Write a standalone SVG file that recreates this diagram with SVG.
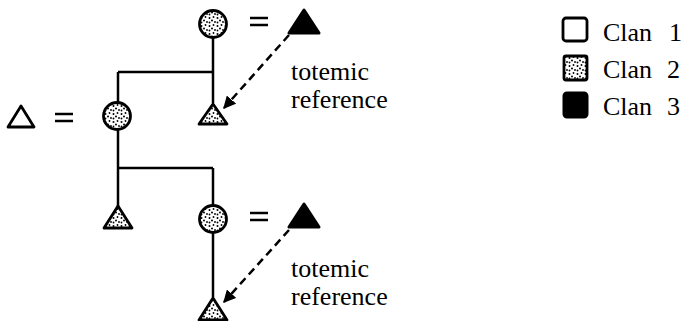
<svg xmlns="http://www.w3.org/2000/svg" width="687" height="321" viewBox="0 0 687 321">
<style>
.ln{stroke:#000;stroke-width:2.5;fill:none}
.dash{stroke:#000;stroke-width:2.5;fill:none;stroke-dasharray:8,5}
.stip{fill:url(#dots);stroke:#000;stroke-width:2.8;stroke-linejoin:round}
.open{fill:#fff;stroke:#000;stroke-width:2.8;stroke-linejoin:round}
.blk{fill:#000;stroke:#000;stroke-width:3;stroke-linejoin:round}
.eq{stroke:#000;stroke-width:2.5}
text{font-family:"Liberation Serif","Times New Roman",serif;font-size:26px;fill:#000}
</style>
<defs>
<pattern id="dots" width="8" height="8" patternUnits="userSpaceOnUse">
<rect width="8" height="8" fill="#fff"/>
<circle cx="1.5" cy="2" r="1"/>
<circle cx="5.5" cy="1" r="0.9"/>
<circle cx="4" cy="4.5" r="1"/>
<circle cx="7" cy="6" r="0.9"/>
<circle cx="1.5" cy="6.5" r="0.9"/>
</pattern>
<marker id="ah" viewBox="0 0 10 10" refX="9" refY="5" markerWidth="5" markerHeight="5" orient="auto" markerUnits="strokeWidth">
<path d="M0,0 L10,5 L0,10 z" fill="#000"/>
</marker>
</defs>
<g id="connectors">
<line class="ln" x1="213" y1="37" x2="213" y2="103"/>
<line class="ln" x1="118" y1="72" x2="213" y2="72"/>
<line class="ln" x1="118" y1="72" x2="118" y2="103"/>
<line class="ln" x1="118" y1="129" x2="118" y2="206"/>
<line class="ln" x1="118" y1="168" x2="213" y2="168"/>
<line class="ln" x1="213" y1="168" x2="213" y2="206"/>
<line class="ln" x1="213" y1="232" x2="213" y2="297"/>
<line class="eq" x1="250" y1="18" x2="268" y2="18"/>
<line class="eq" x1="250" y1="25" x2="268" y2="25"/>
<line class="eq" x1="250" y1="213" x2="268" y2="213"/>
<line class="eq" x1="250" y1="220" x2="268" y2="220"/>
<line class="eq" x1="55" y1="114" x2="73" y2="114"/>
<line class="eq" x1="55" y1="121" x2="73" y2="121"/>
<line class="dash" x1="289" y1="35" x2="224" y2="108" marker-end="url(#ah)"/>
<line class="dash" x1="289" y1="230" x2="224" y2="302" marker-end="url(#ah)"/>
</g>
<g id="n-top-mother"><circle class="stip" cx="213" cy="24" r="13.5"/></g>
<g id="n-top-clan3"><polygon class="blk" points="304,10 289,33 319,33"/></g>
<g id="n-top-son"><polygon class="stip" points="213,104 199,124 227,124"/></g>
<g id="n-left-father"><polygon class="open" points="21,106 8,127 34,127"/></g>
<g id="n-mid-mother"><circle class="stip" cx="117" cy="116" r="13.5"/></g>
<g id="n-low-son"><polygon class="stip" points="118,206 104,228 132,228"/></g>
<g id="n-low-daughter"><circle class="stip" cx="213" cy="219" r="13.5"/></g>
<g id="n-low-clan3"><polygon class="blk" points="304,204 289,227 319,227"/></g>
<g id="n-bottom-son"><polygon class="stip" points="213,298 199,320 227,320"/></g>
<g id="labels">
<text x="291" y="80">totemic</text>
<text x="291" y="108">reference</text>
<text x="291" y="277">totemic</text>
<text x="291" y="305">reference</text>
</g>
<g id="legend">
<rect class="open" x="563" y="18" width="24" height="23" rx="3"/>
<rect class="stip" x="564" y="56" width="23" height="24" rx="2"/>
<rect class="blk" x="564" y="93" width="23" height="24" rx="3"/>
<text x="603" y="41">Clan</text><text x="669" y="41">1</text>
<text x="603" y="78">Clan</text><text x="667" y="78">2</text>
<text x="603" y="115">Clan</text><text x="667" y="115">3</text>
</g>
</svg>
